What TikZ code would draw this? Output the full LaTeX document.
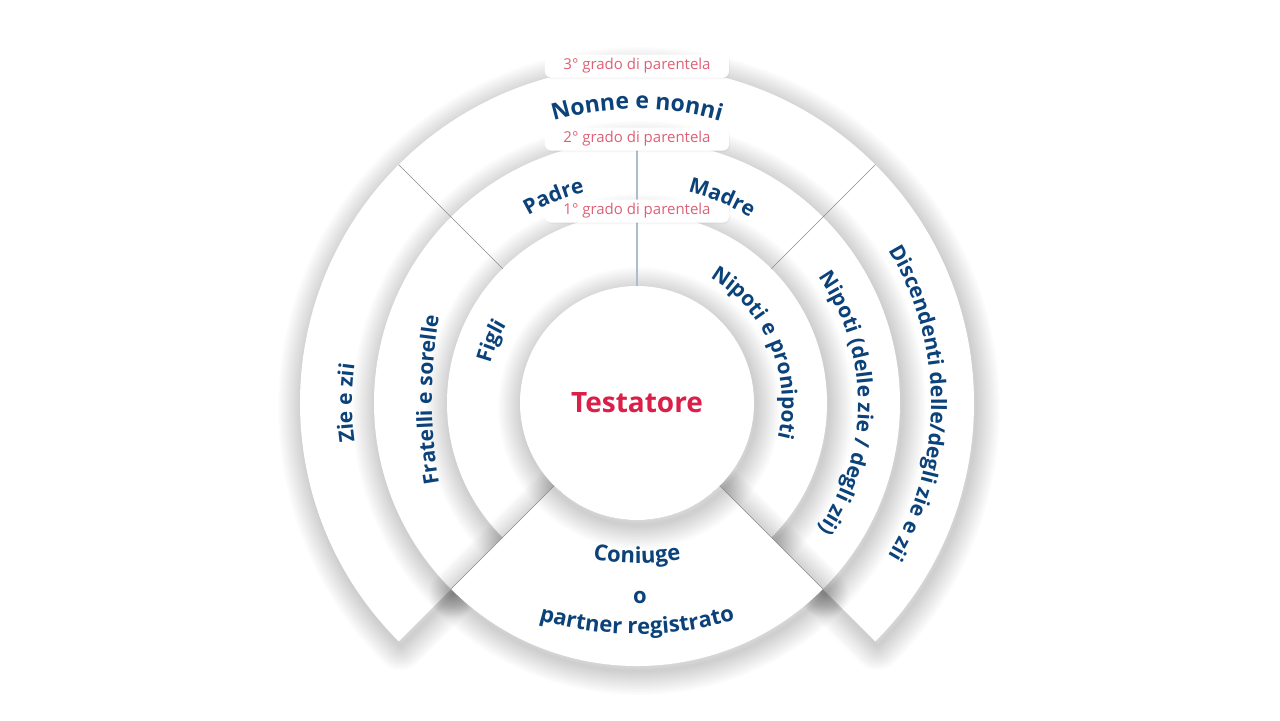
\documentclass[tikz,border=0pt]{standalone}
\usepackage{fontspec}
\setmainfont{Open Sans}
\usetikzlibrary{decorations.text,shadows}

\definecolor{blu}{RGB}{12,66,122}
\definecolor{rosso}{RGB}{218,32,72}
\definecolor{rosa}{RGB}{222,96,118}
\definecolor{riga}{RGB}{140,140,140}
\definecolor{rigablu}{RGB}{172,188,206}

% ombra morbida sotto una forma, poi la forma bianca
\newcommand\ombra[1]{%
  \foreach \w in {1.5,3,...,24}
    \draw[black, line width=\w pt, opacity=0.012, line join=round, shift={(2,-5)}] #1;
  \fill[white] #1;}

% testo lungo un arco: centro, angolo iniziale, angolo finale, raggio, corpo, testo
\newcommand\etichetta[6]{%
  \path[shift={#1}, decorate, decoration={text along path, text align=center,
      text color=blu, text={|\bfseries\fontsize{#5}{#5}\selectfont|#6}}]
    (#2:#4) arc[start angle=#2, end angle=#3, radius=#4];}

\tikzset{
  grado/.style={fill=white, rounded corners=3pt, minimum width=92pt, minimum height=11.5pt,
    inner sep=0pt, text=rosa, font=\fontsize{7.5}{9}\selectfont,
    drop shadow={opacity=0.08, shadow xshift=0.5pt, shadow yshift=-0.8pt}},
}

\begin{document}
\begin{tikzpicture}[x=0.5pt, y=0.5pt]
  \useasboundingbox[fill=white] (-637,-317) rectangle (643,403);

  % anelli, dall'esterno verso l'interno
  \ombra{(0,0) -- (-45:337) arc[start angle=-45, end angle=225, radius=337] -- cycle}
  \ombra{(0,0) -- (-45:263) arc[start angle=-45, end angle=225, radius=263] -- cycle}
  \ombra{(0,0) -- (-45:190) arc[start angle=-45, end angle=225, radius=190] -- cycle}
  % settore del coniuge
  \ombra{(-135:117) -- (-135:263) arc[start angle=-135, end angle=-45, radius=263]
    -- (-45:117) arc[start angle=-45, end angle=-135, radius=117] -- cycle}
  % cerchio centrale
  \ombra{(0,0) circle (117)}

  % divisioni
  \draw[riga, line width=0.3pt] (135:190) -- (135:337);
  \draw[riga, line width=0.3pt] (45:190) -- (45:337);
  \draw[riga, line width=0.3pt] (-135:117) -- (-135:263);
  \draw[riga, line width=0.3pt] (-45:117) -- (-45:263);
  \draw[rigablu, line width=0.6pt] (90:117) -- (90:263);

  % gradi di parentela
  \node[grado] (grado3) at (0,337) {3° grado di parentela};
  \node[grado] (grado2) at (0,264) {2° grado di parentela};
  \node[grado] (grado1) at (0,192) {1° grado di parentela};

  % centro
  \node[text=rosso, font=\bfseries\fontsize{14}{16}\selectfont] (testatore) at (0,0) {Testatore};

  % etichette sugli anelli
  \etichetta{(0,0)}{150}{30}{294}{11.5}{Nonne e nonni}
  \etichetta{(0,0)}{152}{72}{217}{10.5}{Padre}
  \etichetta{(0,0)}{107.5}{27.5}{217}{10.5}{Madre}
  \etichetta{(0,0)}{207}{107}{152}{10.5}{Figli}
  \etichetta{(0,0)}{83}{-37}{145}{10.5}{Nipoti e pronipoti}
  \etichetta{(0,0)}{60}{-60}{221}{10.5}{Nipoti (delle zie / degli zii)}
  \etichetta{(0,0)}{60}{-60}{294}{10.5}{Discendenti delle/degli zie e zii}
  \etichetta{(295,3)}{205}{155}{500}{10.5}{Fratelli e sorelle}
  \etichetta{(0,0)}{220}{140}{285}{10.5}{Zie e zii}

  % coniuge
  \etichetta{(0,90)}{240}{300}{250}{11}{Coniuge}
  \node[text=blu, font=\bfseries\fontsize{11}{12}\selectfont] (oppure) at (3,-194) {o};
  \etichetta{(0,119)}{245}{295}{350}{11}{partner registrato}
\end{tikzpicture}
\end{document}
